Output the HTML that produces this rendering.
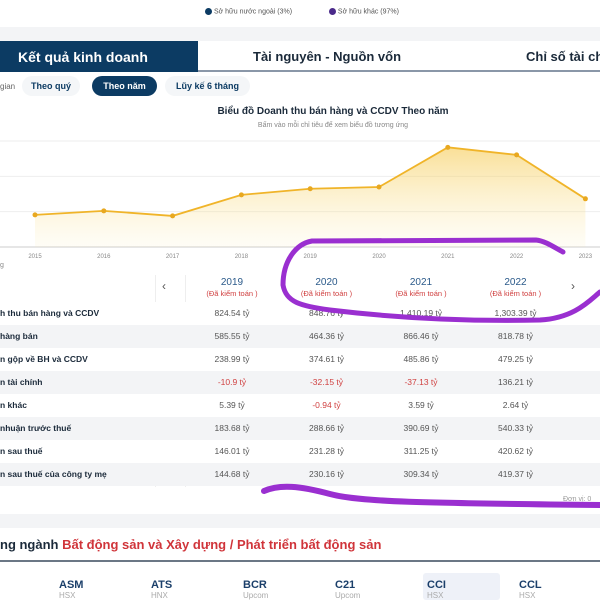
<!DOCTYPE html>
<html><head><meta charset="utf-8">
<style>
*{box-sizing:border-box;margin:0;padding:0}
body{width:600px;height:600px;overflow:hidden;background:#fff;font-family:"Liberation Sans","Noto Sans CJK SC",sans-serif;position:relative;color:#1b2a3a}
.abs{position:absolute}
.t{font-size:10px;text-align:center;position:absolute}
.row{position:absolute;left:0;width:600px;height:23px;font-size:8.5px;font-weight:bold}
.row span{position:absolute;top:6px}
.cell{font-weight:normal;color:#555;width:94px;text-align:center}
.neg{color:#d04040}
</style></head><body>
<div class="abs" style="top:8px;left:205px;font-size:7px;color:#555;width:300px">
<span style="display:inline-block;width:7px;height:7px;border-radius:50%;background:#0c3b63;vertical-align:middle"></span> Sở hữu nước ngoài (3%)
<span style="display:inline-block;width:7px;height:7px;border-radius:50%;background:#4a2a8a;vertical-align:middle;margin-left:35px"></span> Sở hữu khác (97%)</div>
<div class="abs" style="top:27px;left:0;width:600px;height:14px;background:#f3f4f6"></div>
<div class="abs" style="top:41px;left:0;width:600px;height:31px;border-bottom:2px solid #8a97a8"></div>
<div class="abs" style="top:41px;left:0;width:198px;height:31px;background:#0c3b63;color:#fff;font-size:14px;font-weight:bold;padding:8px 0 0 18px">Kết quả kinh doanh</div>
<div class="abs" style="top:49px;left:253px;font-size:13px;font-weight:bold">Tài nguyên - Nguồn vốn</div>
<div class="abs" style="top:49px;left:526px;font-size:13px;font-weight:bold;white-space:nowrap">Chỉ số tài chính</div>
<div class="abs" style="top:82px;left:0;font-size:8px;color:#666">gian</div>
<div class="abs" style="top:76px;left:22px;width:58px;height:20px;border-radius:10px;background:#f4f6f8;font-size:9px;font-weight:bold;text-align:center;line-height:20px;color:#0c3b63">Theo quý</div>
<div class="abs" style="top:76px;left:92px;width:65px;height:20px;border-radius:10px;background:#0c3b63;font-size:9px;font-weight:bold;text-align:center;line-height:20px;color:#fff">Theo năm</div>
<div class="abs" style="top:76px;left:165px;width:85px;height:20px;border-radius:10px;background:#f4f6f8;font-size:9px;font-weight:bold;text-align:center;line-height:20px;color:#0c3b63">Lũy kế 6 tháng</div>
<div class="abs" style="top:106px;left:133px;width:400px;text-align:center;font-size:10px;font-weight:bold">Biểu đồ Doanh thu bán hàng và CCDV Theo năm</div>
<div class="abs" style="top:122px;left:133px;width:400px;text-align:center;font-size:7px;color:#888">Bấm vào mỗi chỉ tiêu để xem biểu đồ tương ứng</div>
<svg id="chart" class="abs" style="top:0;left:0" width="600" height="270">
<defs><linearGradient id="g" x1="0" y1="0" x2="0" y2="1"><stop offset="0" stop-color="#f5c542" stop-opacity="0.55"/><stop offset="1" stop-color="#fbe9a8" stop-opacity="0.1"/></linearGradient></defs>
</svg>
<div class="abs" style="top:262px;left:0;font-size:7px;color:#888">g</div>
<div id="table"></div>
<div class="abs" style="top:496px;left:563px;font-size:7px;color:#999">Đơn vị: 0</div>
<div class="abs" style="top:514px;left:0;width:600px;height:14px;background:#f3f4f6"></div>
<div class="abs" style="top:537px;left:0;font-size:13px;font-weight:bold;white-space:nowrap">ng ngành <span style="color:#d0343a">Bất động sản và Xây dựng / Phát triển bất động sản</span></div>
<div class="abs" style="top:560px;left:0;width:600px;height:1.5px;background:#6b7785"></div>
<div class="abs" style="top:573px;left:423px;width:77px;height:27px;background:#eef1f8;border-radius:3px"></div>
<div id="tickers"></div>
<svg class="abs" style="top:0;left:0" width="600" height="600">
<path d="M563,252 C552,246 545,241 536,240 L312,241 C295,244 283,262 283,285 C286,302 300,306 330,310 C380,316 450,322 540,320 C575,318 590,300 600,292" fill="none" stroke="#9a2fd0" stroke-width="5" stroke-linecap="round"/>
<path d="M264,491 C280,484 300,486 330,494 C360,502 420,503 600,505" fill="none" stroke="#9a2fd0" stroke-width="6" stroke-linecap="round"/>
</svg>
<script>
const years=["2015","2016","2017","2018","2019","2020","2021","2022","2023"];
const revenue=[455,511,440,738,824.54,848.76,1410.19,1303.39,682];
const yTicks=[0,500,1000,1500];
const NS="http://www.w3.org/2000/svg";
const svg=document.getElementById('chart');
const x=i=>35+i*68.8;
const y=v=>247-v*(106/1500);
yTicks.forEach(t=>{const l=document.createElementNS(NS,'line');


l.setAttribute('x1',0);l.setAttribute('x2',600);l.setAttribute('y1',y(t));l.setAttribute('y2',y(t));l.setAttribute('stroke',t===0?'#ccc':'#eee');svg.appendChild(l);});
let d=revenue.map((v,i)=>(i?'L':'M')+x(i)+','+y(v)).join(' ');
const area=document.createElementNS(NS,'path');


area.setAttribute('d',d+' L'+x(revenue.length-1)+',247 L'+x(0)+',247 Z');area.setAttribute('fill','url(#g)');svg.appendChild(area);
const ln=document.createElementNS(NS,'path');


ln.setAttribute('d',d);ln.setAttribute('fill','none');ln.setAttribute('stroke','#f0b429');ln.setAttribute('stroke-width','1.8');svg.appendChild(ln);
revenue.forEach((v,i)=>{const c=document.createElementNS(NS,'circle');


c.setAttribute('cx',x(i));c.setAttribute('cy',y(v));c.setAttribute('r',2.5);c.setAttribute('fill','#e8a820');svg.appendChild(c);
const t=document.createElementNS(NS,'text');


t.setAttribute('x',x(i));t.setAttribute('y',258);t.setAttribute('font-size','6');t.setAttribute('fill','#888');t.setAttribute('text-anchor','middle');t.textContent=years[i];svg.appendChild(t);});
const cols=["2019","2020","2021","2022"];
const labels=["h thu bán hàng và CCDV","hàng bán","n gộp về BH và CCDV","n tài chính","n khác","nhuận trước thuế","n sau thuế","n sau thuế của công ty mẹ"];
const vals=[["824.54","848.76","1,410.19","1,303.39"],["585.55","464.36","866.46","818.78"],["238.99","374.61","485.86","479.25"],["-10.9","-32.15","-37.13","136.21"],["5.39","-0.94","3.59","2.64"],["183.68","288.66","390.69","540.33"],["146.01","231.28","311.25","420.62"],["144.68","230.16","309.34","419.37"]];
let h='<div class="abs" style="top:275px;left:155px;width:1px;height:212px;background:#eee"></div><div class="abs" style="top:275px;left:185px;width:1px;height:212px;background:#eee"></div>';
h+='<div class="abs" style="top:279px;left:162px;font-size:12px;color:#555">‹</div><div class="abs" style="top:279px;left:571px;font-size:12px;color:#555">›</div>';
cols.forEach((c,j)=>{h+=`<div class="t" style="top:277px;left:${185+j*94.5}px;width:94px;color:#2b5a8a">${c}<br><span style="font-size:7.5px;color:#d04040">(Đã kiểm toán )</span></div>`;});
labels.forEach((l,i)=>{h+=`<div class="row" style="top:${302+i*23}px;background:${i%2?'#f3f4f6':'#fff'}"><span style="left:0">${l}</span>`;
vals[i].forEach((v,j)=>{h+=`<span class="cell${v[0]=='-'?' neg':''}" style="left:${185+j*94.5}px">${v} tỷ</span>`;});h+='</div>';});
document.getElementById('table').innerHTML=h;
const tick=[["ASM","HSX"],["ATS","HNX"],["BCR","Upcom"],["C21","Upcom"],["CCI","HSX"],["CCL","HSX"]];
let k='';tick.forEach((t,i)=>{k+=`<div class="abs" style="top:579px;left:${59+i*92}px;font-size:11px;font-weight:bold;color:#1b3f6a">${t[0]}<div style="font-size:8px;color:#aaa;font-weight:normal">${t[1]}</div></div>`;});
document.getElementById('tickers').innerHTML=k;
</script>
</body></html>
